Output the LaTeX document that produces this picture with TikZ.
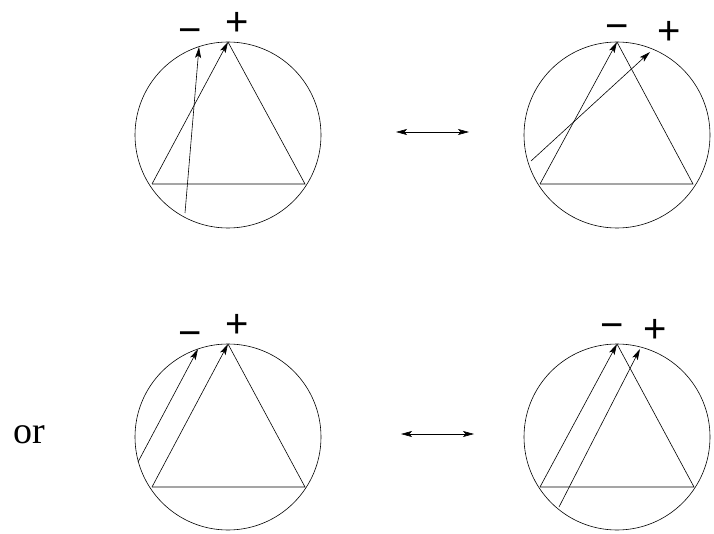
\documentclass[tikz,border=0pt]{standalone}
\usepackage{fontspec}
\setmainfont{Liberation Serif}
\setsansfont{Liberation Sans}
\usetikzlibrary{arrows.meta}

\begin{document}
\begin{tikzpicture}[
  x=1pt,y=-1pt,
  ring/.style={circle,draw,minimum size=186pt,inner sep=0pt},
  arr/.style={-{Stealth[length=11pt,width=6pt,inset=2.5pt]}},
  swap/.style={{Stealth[length=11pt,width=6pt,inset=2.5pt]}-{Stealth[length=11pt,width=6pt,inset=2.5pt]}},
  sign/.style={font=\sffamily\fontsize{40}{40}\selectfont,inner sep=0pt,anchor=base},
  line width=0.6pt
]
  \useasboundingbox (0,0) rectangle (714,534);

  % upper left
  \node[ring] (o1) at (228,135) {};
  \coordinate (t1) at (228,42);
  \coordinate (b1) at (152,184);
  \coordinate (r1) at (305,184);
  \coordinate (s1) at (185,213);
  \coordinate (e1) at (199,47);
  \draw (b1) -- (r1) -- (t1);
  \draw[arr] (b1) -- (t1);
  \draw[arr] (s1) -- (e1);
  \node[sign] (m1) at (190,44) {−};
  \node[sign] (p1) at (237,36) {+};

  % upper right
  \node[ring] (o2) at (617,135) {};
  \coordinate (t2) at (617,42);
  \coordinate (b2) at (540,184);
  \coordinate (r2) at (693,184);
  \coordinate (s2) at (531,161);
  \coordinate (e2) at (650,52);
  \draw (b2) -- (r2) -- (t2);
  \draw[arr] (b2) -- (t2);
  \draw[arr] (s2) -- (e2);
  \node[sign] (m2) at (617,40) {−};
  \node[sign] (p2) at (669,45) {+};

  % lower left
  \node[ring] (o3) at (228,437) {};
  \coordinate (t3) at (228,344);
  \coordinate (b3) at (152,487);
  \coordinate (r3) at (305,487);
  \coordinate (s3) at (138,462);
  \coordinate (e3) at (198,349);
  \draw (b3) -- (r3) -- (t3);
  \draw[arr] (b3) -- (t3);
  \draw[arr] (s3) -- (e3);
  \node[sign] (m3) at (190,346) {−};
  \node[sign] (p3) at (237,337) {+};

  % lower right
  \node[ring] (o4) at (617,437) {};
  \coordinate (t4) at (617,344);
  \coordinate (b4) at (540,487);
  \coordinate (r4) at (694,487);
  \coordinate (s4) at (559,507);
  \coordinate (e4) at (640,349);
  \draw (b4) -- (r4) -- (t4);
  \draw[arr] (b4) -- (t4);
  \draw[arr] (s4) -- (e4);
  \node[sign] (m4) at (612,338) {−};
  \node[sign] (p4) at (655,342) {+};

  % moves between
  \coordinate (u1) at (396,132);
  \coordinate (u2) at (469,132);
  \draw[swap] (u1) -- (u2);
  \coordinate (w1) at (401,434);
  \coordinate (w2) at (474,434);
  \draw[swap] (w1) -- (w2);

  \node[font=\fontsize{38}{38}\selectfont,inner sep=0pt,anchor=base west] (or) at (13,443) {or};
\end{tikzpicture}
\end{document}
